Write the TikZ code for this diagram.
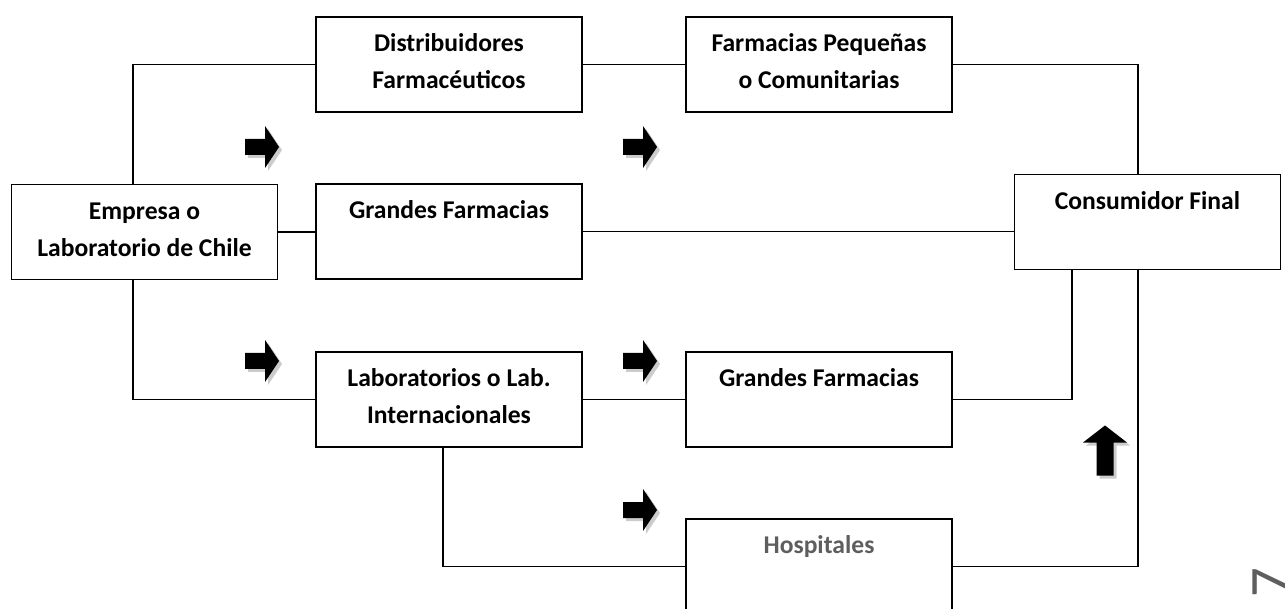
\documentclass[tikz,border=0pt]{standalone}
\usepackage{fontspec}
\setmainfont{Carlito}
\usepackage{tikz}
\usetikzlibrary{positioning}
\definecolor{grisTexto}{HTML}{5E5E5E}

\begin{document}
\begin{tikzpicture}[x=0.75pt,y=-0.75pt,
    caja/.style={draw,line width=1.2pt,minimum width=199.5pt,minimum height=71.25pt,inner sep=0},
    texto/.style={inner sep=0,align=center,font=\fontsize{19.2}{27.75}\selectfont\bfseries},
    linea/.style={line width=1.2pt},
    sombra/.style={fill=gray!40},
    pics/flecha/.style={code={
        \fill[sombra,shift={(3,3)}] (-17,-8) -- (3,-8) -- (3,-21) -- (17,0) -- (3,21) -- (3,8) -- (-17,8) -- cycle;
        \fill[black] (-17,-8) -- (3,-8) -- (3,-21) -- (17,0) -- (3,21) -- (3,8) -- (-17,8) -- cycle;
    }},
    pics/flechaarriba/.style={code={
        \fill[sombra,shift={(3,3)}] (-8.5,25) -- (-8.5,-8) -- (-22,-8) -- (0,-25) -- (22,-8) -- (8.5,-8) -- (8.5,25) -- cycle;
        \fill[black] (-8.5,25) -- (-8.5,-8) -- (-22,-8) -- (0,-25) -- (22,-8) -- (8.5,-8) -- (8.5,25) -- cycle;
    }}]
    \useasboundingbox (0,0) rectangle (1285,609);
    \clip (0,0) rectangle (1285,609);

    % boxes
    \node[caja] (dist) at (449,64.5) {};
    \node[caja] (farmpeq) at (819,64.5) {};
    \node[caja] (empresa) at (144.5,232) {};
    \node[caja] (grandes) at (449,231.5) {};
    \node[caja] (consumidor) at (1147.5,222) {};
    \node[caja] (lab) at (449,399.5) {};
    \node[caja] (grandes2) at (819,399.5) {};
    \node[caja] (hosp) at (819,566.5) {};

    % labels
    \node[texto,below=7.2pt of dist.north] (tdist) {\strut Distribuidores\\Farmacéuticos};
    \node[texto,below=7.2pt of farmpeq.north] (tfarmpeq) {\strut Farmacias Pequeñas\\o Comunitarias};
    \node[texto,below=7.2pt of empresa.north] (tempresa) {\strut Empresa o\\Laboratorio de Chile};
    \node[texto,below=7.2pt of grandes.north] (tgrandes) {\strut Grandes Farmacias};
    \node[texto,below=7.2pt of consumidor.north] (tconsumidor) {\strut Consumidor Final};
    \node[texto,below=7.2pt of lab.north] (tlab) {\strut Laboratorios o Lab.\\Internacionales};
    \node[texto,below=7.2pt of grandes2.north] (tgrandes2) {\strut Grandes Farmacias};
    \node[texto,text=grisTexto,below=7.2pt of hosp.north] (thosp) {\strut Hospitales};

    % lines
    \draw[linea] ([xshift=-8.6pt]empresa.north) |- (dist.west);
    \draw[linea] (dist.east) -- (farmpeq.west);
    \draw[linea] (farmpeq.east) -| ([xshift=-7.1pt]consumidor.north);
    \draw[linea] (empresa.east) -- (empresa.east -| grandes.west);
    \draw[linea] (grandes.east) -- (grandes.east -| consumidor.west);
    \draw[linea] ([xshift=-8.6pt]empresa.south) |- (lab.west);
    \draw[linea] (lab.east) -- (grandes2.west);
    \draw[linea] (grandes2.east) -| ([xshift=-56.6pt]consumidor.south);
    \draw[linea] ([xshift=-4.5pt]lab.south) |- (hosp.west);
    \draw[linea] (hosp.east) -| ([xshift=-7.1pt]consumidor.south);

    % block arrows
    \pic at (262,147) {flecha};
    \pic at (640,147) {flecha};
    \pic at (262,361) {flecha};
    \pic at (640,361) {flecha};
    \pic at (640,510) {flecha};
    \pic at (1105,450.5) {flechaarriba};

    % page number
    \node[inner sep=0,rotate=90,anchor=base west,text=grisTexto,font=\fontsize{44}{48}\selectfont] (pagina) at (1290,598) {7};
\end{tikzpicture}
\end{document}
